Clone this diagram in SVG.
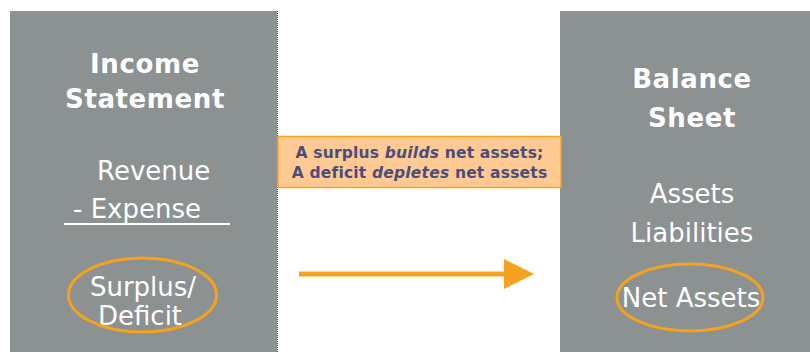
<svg xmlns="http://www.w3.org/2000/svg" width="810" height="352" viewBox="0 0 810 352">
  <style>
    .panel { fill: #8c9192; }
    .title { font-family: "DejaVu Sans", Verdana, sans-serif; font-weight: bold; font-size: 26px; letter-spacing: 0.6px; fill: #ffffff; text-anchor: middle; }
    .item { font-family: "DejaVu Sans", Verdana, sans-serif; font-size: 26px; fill: #ffffff; }
    .ring { fill: none; stroke: #f5a21e; stroke-width: 3; }
    .note { font-family: "DejaVu Sans", Verdana, sans-serif; font-weight: bold; font-size: 15.5px; letter-spacing: 0.2px; fill: #4b4d7a; text-anchor: middle; }
  </style>
  <rect width="810" height="352" fill="#ffffff"/>

  <g id="income-statement">
    <rect class="panel" x="10" y="11" width="267" height="341"/>
    <line x1="277.5" y1="11" x2="277.5" y2="352" stroke="#444" stroke-width="1" stroke-dasharray="1 1"/>
    <text class="title" x="145" y="73">Income</text>
    <text class="title" x="145" y="108">Statement</text>
    <text class="item" x="97" y="180">Revenue</text>
    <text class="item" x="73" y="218">- Expense</text>
    <line x1="64" y1="224" x2="230" y2="224" stroke="#ffffff" stroke-width="2"/>
    <text class="item" x="143" y="296" text-anchor="middle">Surplus/</text>
    <text class="item" x="140" y="325" text-anchor="middle">Deficit</text>
    <ellipse class="ring" cx="142.5" cy="295" rx="74" ry="37"/>
  </g>

  <g id="balance-sheet">
    <rect class="panel" x="560" y="11" width="250" height="341"/>
    <text class="title" x="692" y="88">Balance</text>
    <text class="title" x="692" y="127">Sheet</text>
    <text class="item" x="692" y="203" text-anchor="middle">Assets</text>
    <text class="item" x="692" y="242" text-anchor="middle">Liabilities</text>
    <text class="item" x="691" y="307" text-anchor="middle">Net Assets</text>
    <ellipse class="ring" cx="690" cy="297.5" rx="73" ry="33.5"/>
  </g>

  <g id="callout">
    <rect x="278" y="136.5" width="283" height="51" fill="#ffc993" stroke="#f5a21e" stroke-width="1.5"/>
    <text class="note" x="419.5" y="158">A surplus <tspan font-style="italic">builds</tspan> net assets;</text>
    <text class="note" x="419.5" y="178">A deficit <tspan font-style="italic">depletes</tspan> net assets</text>
  </g>

  <g id="connectors">
    <line x1="299" y1="274" x2="506" y2="274" stroke="#f5a21e" stroke-width="5"/>
    <polygon points="504,259 534,274 504,289" fill="#f5a21e"/>
  </g>
</svg>
